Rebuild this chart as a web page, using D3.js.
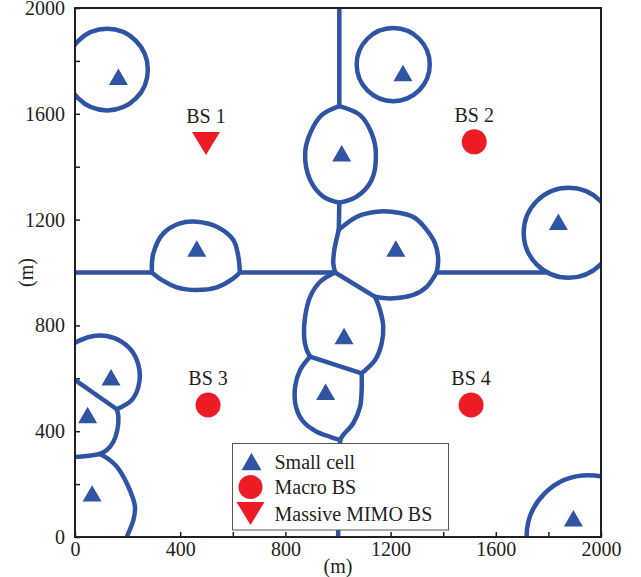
<!DOCTYPE html>
<html>
<head>
<meta charset="utf-8">
<script src="https://cdn.jsdelivr.net/npm/d3@7"></script>
<style>
body { margin: 0; background: #fff; }
text { font-family: "Liberation Serif", "Times New Roman", serif; fill: #231f20; }
.axis line { stroke: #231f20; stroke-width: 1.5; }
.axis path { display: none; }
</style>
</head>
<body>
<script>
let margin = {left: 75, top: 8, right: 40, bottom: 40};
let width = 526;
let height = 529;

// small cell positions (m)
let smallCells = [
  [165, 1740], [1247, 1754], [1014, 1451], [1838, 1192],
  [463, 1091], [1220, 1091], [1023, 760], [137, 604],
  [953, 549], [48, 461], [65, 165], [1895, 71]
];
let macroBS = [
  {name: 'BS 2', x: 1518, y: 1494},
  {name: 'BS 3', x: 506, y: 499},
  {name: 'BS 4', x: 1506, y: 499}
];
let mimoBS = [
  {name: 'BS 1', x: 498, y: 1488}
];

// round coverage areas: centre and radius (m)
let cellCircles = [
  {x: 122, y: 1767, r: 155},
  {x: 1210, y: 1786, r: 139},
  {x: 1877, y: 1150, r: 171},
  {x: 1952, y: 0, r: 235}
];

// other coverage boundaries, as polylines (m)
let cellEdges = [
  [[1005, 2000], [1005, 1629]],
  [[1005, 1629], [938, 1595], [894, 1526], [875, 1451], [894, 1350], [944, 1287], [1005, 1264]],
  [[1005, 1629], [1084, 1595], [1128, 1526], [1144, 1451], [1128, 1350], [1071, 1287], [1005, 1264]],
  [[1005, 1264], [1003, 1161]],
  [[1003, 1161], [1072, 1211], [1148, 1230], [1236, 1225], [1293, 1206], [1337, 1161], [1369, 1110], [1381, 1047], [1375, 1000]],
  [[1375, 1000], [1337, 946], [1286, 915], [1198, 902], [1141, 908]],
  [[1141, 908], [989, 1000]],
  [[989, 1000], [982, 1035], [986, 1085], [1003, 1161]],
  [[1375, 1000], [1790, 1000]],
  [[627, 1000], [989, 1000]],
  [[-20, 1000], [292, 1000]],
  [[292, 1000], [298, 1073], [336, 1148], [399, 1186], [463, 1192], [539, 1173], [602, 1123], [621, 1060], [627, 1000]],
  [[292, 1000], [330, 972], [387, 944], [463, 934], [539, 944], [602, 978], [627, 1000]],
  [[1141, 908], [1160, 858], [1172, 795], [1166, 732], [1141, 669], [1090, 619]],
  [[989, 1000], [932, 965], [894, 908], [875, 833], [871, 757], [881, 707], [894, 682]],
  [[894, 682], [1090, 619]],
  [[894, 682], [856, 631], [837, 568], [840, 493], [868, 436], [919, 398], [970, 379], [1008, 367]],
  [[1090, 619], [1090, 556], [1084, 493], [1058, 430], [1020, 386], [1008, 367]],
  [[1008, 367], [1000, -20]],
  [[-20, 725], [57, 757], [121, 760], [178, 738], [222, 695], [245, 631], [241, 568], [216, 518], [159, 483]],
  [[-20, 608], [159, 483]],
  [[159, 483], [165, 455], [161, 405], [146, 360], [121, 329], [95, 314]],
  [[-20, 301], [45, 306], [95, 314]],
  [[95, 314], [127, 295], [159, 266], [203, 190], [228, 115], [222, 64], [197, 0], [190, -20]]
];

let ticks = [0, 200, 400, 600, 800, 1000, 1200, 1400, 1600, 1800, 2000];
let tickLabels = [0, 400, 800, 1200, 1600, 2000];

let legendItems = ['Small cell', 'Macro BS', 'Massive MIMO BS'];

let blue = '#2f54a4';
let red = '#ed1c24';

let svg = d3.select('body').append('svg')
  .attr('width', 641)
  .attr('height', 577);

let x = d3.scaleLinear().range([0, width]).domain([0, 2000]);
let y = d3.scaleLinear().range([height, 0]).domain([0, 2000]);

let g = svg.append('g')
  .attr('transform', 'translate(' + margin.left + ',' + margin.top + ')');

g.append('clipPath').attr('id', 'plot')
  .append('rect').attr('width', width).attr('height', height);

let fmt = d => tickLabels.includes(d) ? d : '';

g.append('g')
  .attr('class', 'axis')
  .attr('transform', 'translate(0,' + height + ')')
  .call(d3.axisBottom(x).tickValues(ticks).tickSize(-5).tickPadding(5).tickFormat(fmt))
  .selectAll('text').style('font-size', '20px');

g.append('g')
  .attr('class', 'axis')
  .call(d3.axisLeft(y).tickValues(ticks).tickSize(-5).tickPadding(10).tickFormat(fmt))
  .selectAll('text').style('font-size', '20px');

let cells = g.append('g').attr('clip-path', 'url(#plot)')
  .attr('fill', 'none')
  .attr('stroke', blue)
  .attr('stroke-width', 4.5)
  .attr('stroke-linejoin', 'round')
  .attr('stroke-linecap', 'round');

let line = d3.line()
  .curve(d3.curveCatmullRom.alpha(0.5))
  .x(d => x(d[0]))
  .y(d => y(d[1]));

cells.selectAll('path')
  .data(cellEdges)
  .enter().append('path')
  .attr('d', line);

cells.selectAll('circle')
  .data(cellCircles)
  .enter().append('circle')
  .attr('cx', d => x(d.x))
  .attr('cy', d => y(d.y))
  .attr('r', d => x(d.r) - x(0));

function tri(w, up) {
  let h = w * 0.866;
  let s = up ? 1 : -1;
  return 'M' + (-w / 2) + ',' + (s * h / 2) + 'L' + (w / 2) + ',' + (s * h / 2) + 'L0,' + (-s * h / 2) + 'Z';
}

g.selectAll('.sc')
  .data(smallCells)
  .enter().append('path')
  .attr('class', 'sc')
  .attr('transform', d => 'translate(' + x(d[0]) + ',' + y(d[1]) + ')')
  .attr('d', tri(19, true))
  .attr('fill', blue);

g.selectAll('.macro')
  .data(macroBS)
  .enter().append('circle')
  .attr('class', 'macro')
  .attr('cx', d => x(d.x))
  .attr('cy', d => y(d.y))
  .attr('r', 12.5)
  .attr('fill', red);

g.selectAll('.mimo')
  .data(mimoBS)
  .enter().append('path')
  .attr('class', 'mimo')
  .attr('transform', d => 'translate(' + x(d.x) + ',' + y(d.y) + ')')
  .attr('d', 'M-14,-11.5L14,-11.5L0,11.5Z')
  .attr('fill', red);

g.selectAll('.bslabel')
  .data(macroBS.concat(mimoBS))
  .enter().append('text')
  .attr('class', 'bslabel')
  .attr('x', d => x(d.x))
  .attr('y', d => y(d.y) - 20)
  .attr('text-anchor', 'middle')
  .style('font-size', '20px')
  .text(d => d.name);

// frame
g.append('rect')
  .attr('width', width)
  .attr('height', height)
  .attr('fill', 'none')
  .attr('stroke', '#231f20')
  .attr('stroke-width', 2);

// legend
let lg = svg.append('g').attr('transform', 'translate(232.5,443.5)');
lg.append('rect')
  .attr('width', 216)
  .attr('height', 86.5)
  .attr('fill', '#fff')
  .attr('stroke', '#555')
  .attr('stroke-width', 1);

let rowY = [18, 43.5, 70];
lg.append('path')
  .attr('transform', 'translate(19,' + rowY[0] + ')')
  .attr('d', tri(20, true))
  .attr('fill', blue);
lg.append('circle')
  .attr('cx', 18).attr('cy', rowY[1]).attr('r', 12)
  .attr('fill', red);
lg.append('path')
  .attr('transform', 'translate(18,' + rowY[2] + ')')
  .attr('d', 'M-14,-11.5L14,-11.5L0,11.5Z')
  .attr('fill', red);

lg.selectAll('.lt')
  .data(legendItems)
  .enter().append('text')
  .attr('class', 'lt')
  .attr('x', 42)
  .attr('y', (d, i) => rowY[i] + 7)
  .style('font-size', '20px')
  .text(d => d);

// axis titles
svg.append('text')
  .attr('x', margin.left + width / 2)
  .attr('y', 573)
  .attr('text-anchor', 'middle')
  .style('font-size', '20px')
  .text('(m)');

svg.append('text')
  .attr('transform', 'translate(33,' + (margin.top + height / 2) + ') rotate(-90)')
  .attr('text-anchor', 'middle')
  .style('font-size', '20px')
  .text('(m)');
</script>
</body>
</html>
